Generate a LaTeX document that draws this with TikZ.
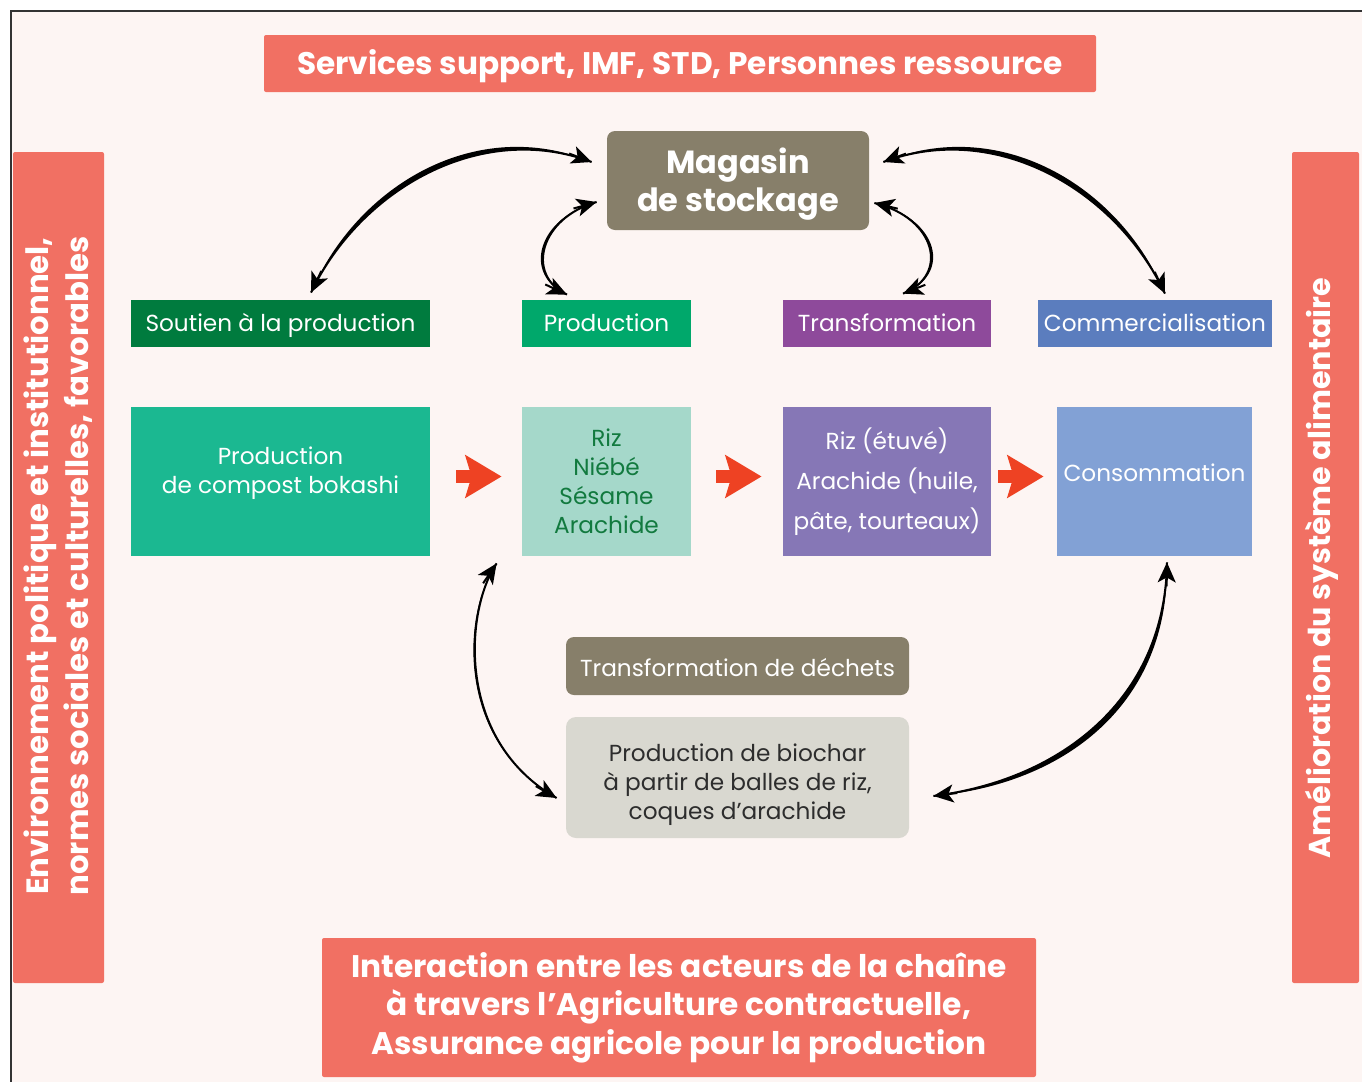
\documentclass[tikz,border=0pt]{standalone}
\usepackage{fontspec}
\setmainfont{Poppins}
\usetikzlibrary{arrows.meta,calc}
\definecolor{bg}{HTML}{FDF5F3}
\definecolor{frame}{HTML}{333333}
\definecolor{salmon}{HTML}{F17063}
\definecolor{khaki}{HTML}{877F6A}
\definecolor{cSoutien}{HTML}{007B3E}
\definecolor{cProd}{HTML}{00A86B}
\definecolor{cTrans}{HTML}{8E4A9B}
\definecolor{cComm}{HTML}{5B7DBE}
\definecolor{cCompost}{HTML}{1BB891}
\definecolor{cRiz}{HTML}{A5D8CA}
\definecolor{cRizTxt}{HTML}{127A3F}
\definecolor{cTransBox}{HTML}{8677B6}
\definecolor{cConso}{HTML}{82A1D5}
\definecolor{cBio}{HTML}{D9D8D0}
\definecolor{cBioTxt}{HTML}{2D2D2D}
\definecolor{cRed}{HTML}{EE4223}
% tapered double-headed curve: #1 start, #2 c1, #3 c2, #4 end, #5 c1 outer, #6 c2 outer
\newcommand\lens[6]{%
  \draw[line width=1pt] #1 .. controls #2 and #3 .. #4;
  \fill #1 .. controls #2 and #3 .. #4 .. controls #6 and #5 .. #1;
  \draw[tipline] ($#1!12pt!#2$) -- #1;
  \draw[tipline] ($#4!12pt!#3$) -- #4;
}
\newcommand\sline[2]{\raisebox{#1}[0pt][0pt]{#2}}
\newcommand\mline[2]{\raisebox{#1}[0pt][0pt]{\begin{tabular}[b]{@{}c@{}}#2\end{tabular}}}
\begin{document}
\begin{tikzpicture}[x=0.5pt,y=-0.5pt,
  box/.style={rectangle, inner sep=0pt, align=center, text=white},
  redbox/.style={box, fill=salmon, rounded corners=1pt, font=\bfseries\fontsize{15.6}{19.25}\selectfont},
  lbl/.style={box, minimum height=23.5pt, font=\fontsize{11.6}{14}\selectfont},
  bigbox/.style={box, minimum height=74.5pt, font=\fontsize{11.6}{14.5}\selectfont},
  tipline/.style={line width=1pt, -{Stealth[length=10pt,width=9pt,inset=2.5pt]}},
  redarrow/.style={draw=cRed, line width=6.5pt, -{Stealth[length=18pt,width=21pt,inset=3pt]}}
]
\useasboundingbox (0,0) rectangle (1362,1082);
\fill[bg] (12,12) rectangle (1362,1082);
\draw[frame, line width=1pt] (11,1082) -- (11,11) -- (1362,11);

% frame boxes
\node[redbox, minimum width=416pt, minimum height=28.5pt] (top) at (680,63.5) {\sline{-5.4pt}{Services support, IMF, STD, Personnes ressource}};
\node[redbox, minimum width=357pt, minimum height=69.5pt] (bottom) at (679,1007.5) {Interaction entre les acteurs de la chaîne\\à travers l’Agriculture contractuelle,\\Assurance agricole pour la production};
\node[redbox, minimum width=45.5pt, minimum height=415.5pt] (leftbar) at (58.5,567.5) {};
\node[box, rotate=90, font=\bfseries\fontsize{15.4}{20}\selectfont] (lefttxt) at (58,566) {Environnement politique et institutionnel,\\normes sociales et culturelles, favorables};
\node[redbox, minimum width=33.5pt, minimum height=415.5pt] (rightbar) at (1325.5,567.5) {};
\node[box, rotate=90, font=\bfseries\fontsize{15.1}{20}\selectfont] (righttxt) at (1322,568) {Amélioration du système alimentaire};

% storage
\node[box, fill=khaki, rounded corners=4pt, minimum width=131pt, minimum height=49.5pt, font=\bfseries\fontsize{16}{19}\selectfont] (mag) at (738,180.5) {\mline{-15.5pt}{Magasin\\de stockage}};

% label row
\node[lbl, fill=cSoutien, minimum width=149.5pt] (soutien) at (280.5,323.5) {\sline{-4pt}{Soutien à la production}};
\node[lbl, fill=cProd, minimum width=84.5pt] (prodlbl) at (606.5,323.5) {\sline{-4pt}{Production}};
\node[lbl, fill=cTrans, minimum width=104pt] (translbl) at (887,323.5) {\sline{-4pt}{Transformation}};
\node[lbl, fill=cComm, minimum width=117pt] (commlbl) at (1155,323.5) {\sline{-4pt}{Commercialisation}};

% main row
\node[bigbox, fill=cCompost, minimum width=149.5pt] (compost) at (280.5,481.5) {\mline{-5.75pt}{Production\\de compost bokashi}};
\node[bigbox, fill=cRiz, text=cRizTxt, minimum width=84.5pt] (riz) at (606.5,481.5) {Riz\\Niébé\\Sésame\\Arachide};
\node[bigbox, fill=cTransBox, minimum width=104pt, font=\fontsize{11.6}{20}\selectfont] (transbox) at (887,481.5) {Riz (étuvé)\\Arachide (huile,\\pâte, tourteaux)};
\node[bigbox, fill=cConso, minimum width=97.5pt] (conso) at (1154.5,481.5) {\sline{0pt}{Consommation}};

% waste
\node[box, fill=khaki, rounded corners=4pt, minimum width=171.5pt, minimum height=29pt, font=\fontsize{11.6}{14}\selectfont] (dechets) at (737.5,666) {\sline{-5pt}{Transformation de déchets}};
\node[box, fill=cBio, text=cBioTxt, rounded corners=5pt, minimum width=171.5pt, minimum height=60.5pt, font=\fontsize{11.6}{14.5}\selectfont] (biochar) at (737.5,777.5) {\mline{-20.75pt}{Production de biochar\\à partir de balles de riz,\\coques d’arachide}};

% red flow arrows
\draw[redarrow, shorten <=13pt, shorten >=10pt] ([yshift=2.5pt]compost.east) -- ([yshift=2.5pt]riz.west);
\draw[redarrow, shorten <=12.5pt, shorten >=10.5pt] ([yshift=2.5pt]riz.east) -- ([yshift=2.5pt]transbox.west);
\draw[redarrow, shorten <=3.5pt, shorten >=6.5pt] ([yshift=2.5pt]transbox.east) -- ([yshift=2.5pt]conso.west);

% black curved connectors (tapered)
\lens{([shift={(-15,-18.5)}]mag.west)}{(480,120)}{(360,190)}{([shift={(30.5,-7)}]soutien.north)}{(477.5,114.5)}{(357.5,184.5)}
\lens{([shift={(14,-18.5)}]mag.east)}{(996,120)}{(1116,190)}{([shift={(10,-6)}]commlbl.north)}{(998.5,114.5)}{(1118.5,184.5)}
\lens{([shift={(-10,21.5)}]mag.west)}{(540,218)}{(525,275)}{([shift={(-39.5,-5)}]prodlbl.north)}{(537,218)}{(522,275)}
\lens{([shift={(5,22.5)}]mag.east)}{(936,218)}{(950,275)}{([shift={(16,-6)}]translbl.north)}{(939,218)}{(953,275)}
\lens{([shift={(-25,7)}]riz.south west)}{(465,610)}{(455,740)}{([shift={(-9,20.5)}]biochar.west)}{(463,610)}{(453,740)}
\lens{([shift={(12.5,6)}]conso.south)}{(1165,700)}{(1060,780)}{([shift={(24,18.5)}]biochar.east)}{(1169.5,704.5)}{(1064.5,784.5)}
\end{tikzpicture}
\end{document}
